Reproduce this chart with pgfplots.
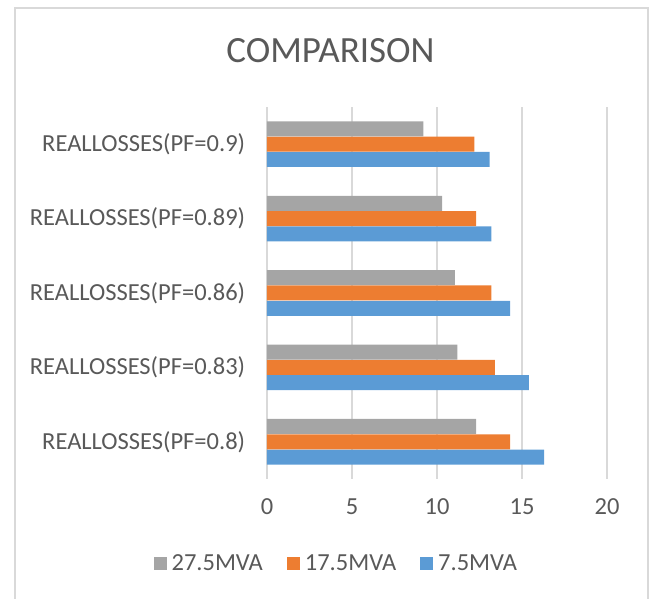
\documentclass[border=0pt]{standalone}
\usepackage{pgfplots}
\pgfplotsset{compat=1.18}
\usepackage{fontspec}
\setmainfont{Carlito}
\definecolor{cblue}{HTML}{5B9BD5}
\definecolor{corange}{HTML}{ED7D31}
\definecolor{cgray}{HTML}{A5A5A5}
\definecolor{ctext}{HTML}{595959}
\definecolor{cgrid}{HTML}{D9D9D9}
\begin{document}
\begin{tikzpicture}[x=1pt,y=1pt]
\path[use as bounding box] (0,0) rectangle (657,599);
\draw[cgrid, line width=1.5pt] (15,-5) -- (15,591) -- (648,591) -- (648,-5);
\node[text=ctext, font=\fontsize{37}{42}\selectfont] at (330.5,548) {COMPARISON};
\begin{axis}[
  at={(267pt,120pt)}, anchor=south west,
  scale only axis, width=340pt, height=372pt,
  xbar, bar width=15pt,
  xmin=0, xmax=20, ymin=-0.5, ymax=4.5,
  xtick={0,5,10,15,20},
  ytick={0,1,2,3,4},
  yticklabels={REALLOSSES(PF=0.8),REALLOSSES(PF=0.83),REALLOSSES(PF=0.86),REALLOSSES(PF=0.89),REALLOSSES(PF=0.9)},
  xmajorgrids, major grid style={cgrid, line width=1.5pt},
  axis line style={draw=none},
  major tick style={draw=none},
  /pgf/number format/assume math mode=true,
  tick label style={text=ctext, font=\fontsize{24.5}{28}\selectfont},
  xticklabel style={yshift=-16pt},
  yticklabel style={xshift=-14pt},
  legend columns=3,
  reverse legend,
  legend style={at={(0.204,-0.226)}, anchor=center, draw=none, fill=none,
    font=\fontsize{24.5}{28}\selectfont, text=ctext,
    /tikz/every odd column/.append style={column sep=3pt},
    /tikz/every even column/.append style={column sep=22pt}},
  legend image code/.code={\fill[#1] (0pt,-6.5pt) rectangle (13pt,6.5pt);},
]
\addplot[fill=cblue, draw=none, bar shift=-15.3pt] coordinates {(16.3,0) (15.4,1) (14.3,2) (13.2,3) (13.1,4)};
\addlegendentry{7.5MVA}
\addplot[fill=corange, draw=none, bar shift=0pt] coordinates {(14.3,0) (13.4,1) (13.2,2) (12.3,3) (12.2,4)};
\addlegendentry{17.5MVA}
\addplot[fill=cgray, draw=none, bar shift=15.3pt] coordinates {(12.3,0) (11.2,1) (11.05,2) (10.3,3) (9.2,4)};
\addlegendentry{27.5MVA}
\end{axis}
\end{tikzpicture}
\end{document}
